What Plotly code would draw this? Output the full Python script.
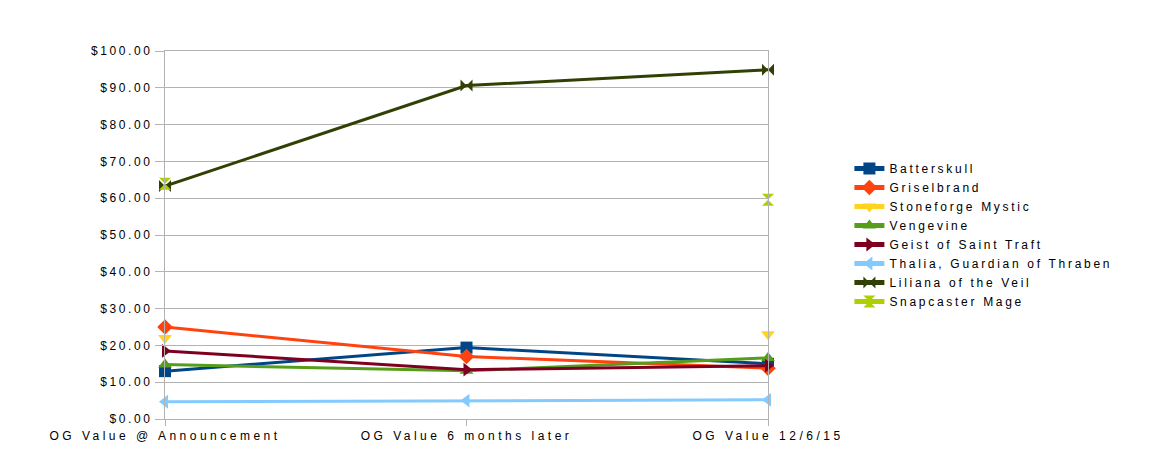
import plotly.graph_objects as go

categories = ["OG Value @ Announcement", "OG Value 6 months later", "OG Value 12/6/15"]

batterskull = [13.0, 19.4, 15.0]
griselbrand = [25.0, 17.0, 13.8]
stoneforge = [22.0, None, 23.0]
vengevine = [14.8, 13.1, 16.6]
geist = [18.5, 13.4, 14.5]
thalia = [4.7, 5.0, 5.2]
liliana = [63.3, 90.6, 94.9]
snapcaster = [63.9, None, 59.6]

series_names = ["Batterskull", "Griselbrand", "Stoneforge Mystic", "Vengevine",
                "Geist of Saint Traft", "Thalia, Guardian of Thraben",
                "Liliana of the Veil", "Snapcaster Mage"]
series_values = [batterskull, griselbrand, stoneforge, vengevine, geist, thalia, liliana, snapcaster]
colors = ["#004586", "#ff420e", "#ffd320", "#579d1c", "#7e0021", "#83caff", "#314004", "#aecf00"]
symbols = ["square", "diamond", "triangle-down", "triangle-up", "triangle-right",
           "triangle-left", "bowtie", "hourglass"]

y_ticks = [0, 10, 20, 30, 40, 50, 60, 70, 80, 90, 100]

def sp(t, ls):
    return '<span style="letter-spacing:{}px">{}</span>'.format(ls, t)

fig = go.Figure()
for name, vals, c, s in zip(series_names, series_values, colors, symbols):
    fig.add_trace(go.Scatter(
        x=categories, y=vals, name=sp(name, 2.7), mode="lines+markers",
        line=dict(color=c, width=3), connectgaps=False, cliponaxis=False,
        marker=dict(symbol=s, size=12, color=c, line=dict(width=0)),
    ))

fig.update_layout(
    width=1154, height=469,
    margin=dict(l=157, r=394, t=43, b=58),
    paper_bgcolor="white", plot_bgcolor="white",
    font=dict(family="Liberation Sans, Arial, sans-serif", size=12, color="#000000"),
    showlegend=True,
    legend=dict(x=1.135, y=0.5, xanchor="left", yanchor="middle",
                font=dict(size=12), tracegroupgap=0, itemwidth=30,
                itemsizing="constant", bgcolor="rgba(0,0,0,0)"),
)
fig.update_xaxes(
    type="category", range=[0, 2], showgrid=False,
    tickvals=categories, ticktext=[sp(c, 3.5) for c in categories],
    ticks="outside", ticklen=6, tickcolor="#b3b3b3",
    showline=True, linecolor="#b3b3b3", linewidth=1, mirror=True,
    zeroline=False,
)
fig.update_yaxes(
    range=[0, 100], tickvals=y_ticks,
    ticktext=[sp("${:.2f}".format(v), 2.6) for v in y_ticks],
    showgrid=True, gridcolor="#b3b3b3", gridwidth=1,
    ticks="outside", ticklen=9, tickcolor="#b3b3b3",
    showline=True, linecolor="#b3b3b3", linewidth=1, mirror=True,
    zeroline=False,
)
fig.write_html("out.html")
